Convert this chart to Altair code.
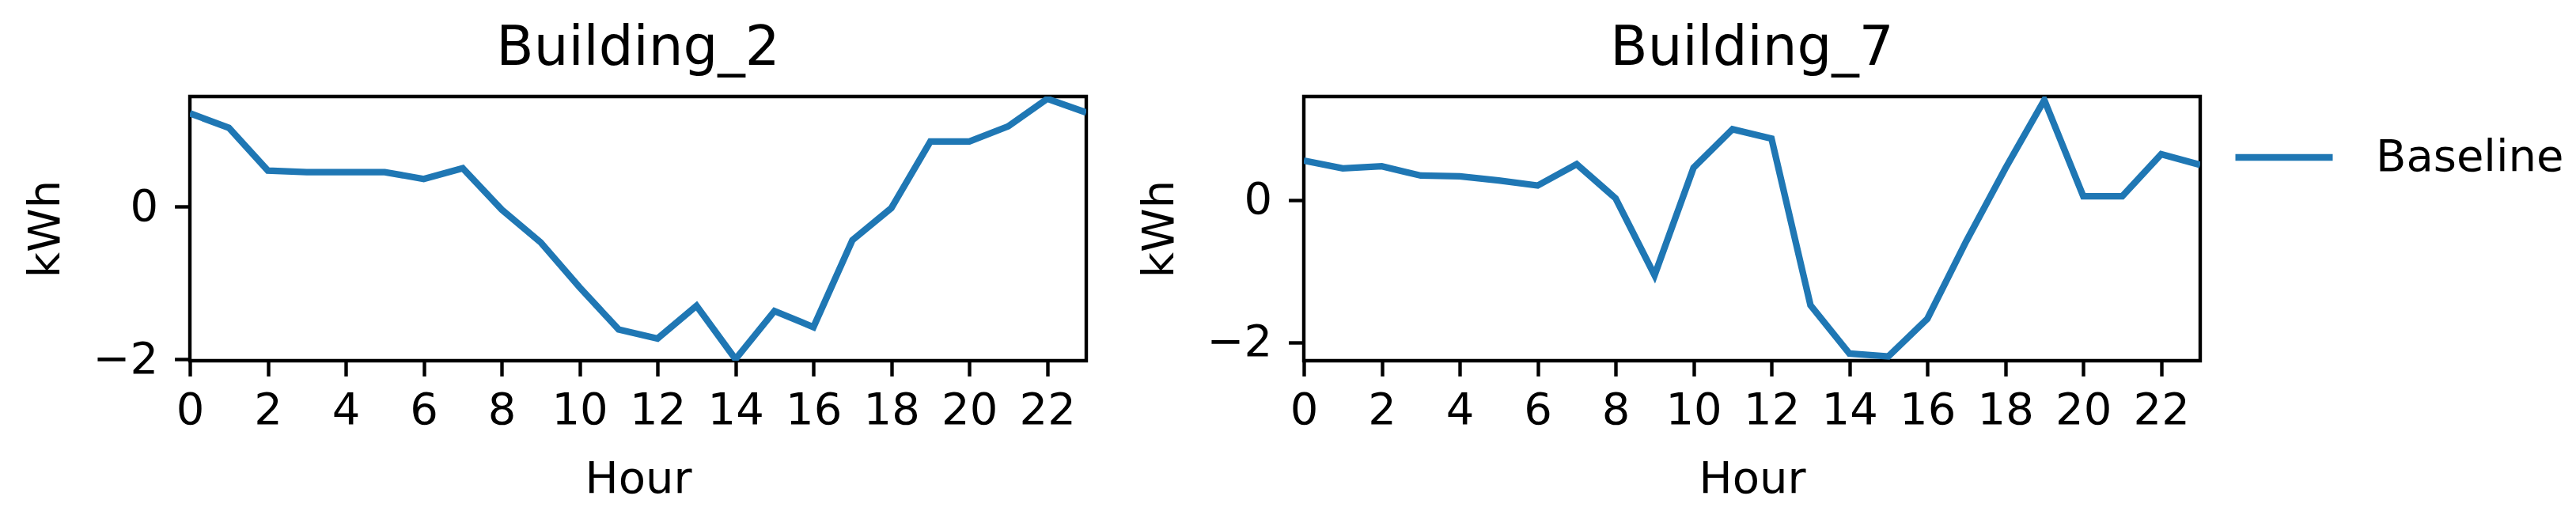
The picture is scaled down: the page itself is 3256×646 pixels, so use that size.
import altair as alt
import pandas as pd

hours = list(range(24))
building_2 = [1.22, 1.03, 0.47, 0.45, 0.45, 0.45, 0.36, 0.50, -0.04, -0.47, -1.06, -1.61,
              -1.73, -1.30, -2.00, -1.37, -1.58, -0.44, -0.02, 0.85, 0.85, 1.05, 1.41, 1.23]
building_7 = [0.55, 0.44, 0.47, 0.34, 0.33, 0.27, 0.20, 0.50, 0.02, -1.06, 0.45, 0.99,
              0.86, -1.48, -2.16, -2.20, -1.67, -0.58, 0.44, 1.40, 0.05, 0.05, 0.64, 0.49]
panel_names = ["Building_2", "Building_7"]
series_name = "Baseline"
x_ticks = list(range(0, 23, 2))
y_ticks = [-2, 0]
y_domains = [[-2.02, 1.44], [-2.26, 1.45]]

FONT = "DejaVu Sans"


def panel(name, values, ydomain):
    df = pd.DataFrame({"Hour": hours, "kWh": values, "Series": [series_name] * len(hours)})
    return (
        alt.Chart(df, title=alt.TitleParams(name, fontSize=69, font=FONT, fontWeight="normal",
                                            color="black", anchor="middle", offset=26))
        .mark_line(strokeWidth=8.3, clip=True)
        .encode(
            x=alt.X("Hour:Q", scale=alt.Scale(domain=[0, 23], nice=False, zero=False),
                    axis=alt.Axis(values=x_ticks, title="Hour", labelFlush=False,
                                  labelOverlap=False, labelPadding=16, titlePadding=32)),
            y=alt.Y("kWh:Q", scale=alt.Scale(domain=ydomain, nice=False, zero=False),
                    axis=alt.Axis(values=y_ticks, title="kWh", labelPadding=21, titlePadding=31)),
            color=alt.Color("Series:N", scale=alt.Scale(range=["#1f77b4"]),
                            legend=alt.Legend(title=None, orient="none", legendX=2581, legendY=11,
                                              symbolType="stroke", symbolStrokeWidth=8.3,
                                              symbolSize=15129, labelFontSize=56, labelFont=FONT,
                                              labelColor="black", labelOffset=50, labelLimit=400)),
        )
        .properties(width=1133, height=334)
    )


chart = (
    alt.hconcat(
        panel(panel_names[0], building_2, y_domains[0]),
        panel(panel_names[1], building_7, y_domains[1]),
        spacing=58,
    )
    .properties(padding={"left": 18, "top": 16, "right": 0, "bottom": 0})
    .configure_view(stroke="black", strokeWidth=4.4)
    .configure_axis(
        labelFont=FONT, titleFont=FONT, labelFontSize=56, titleFontSize=56,
        titleFontWeight="normal", labelColor="black", titleColor="black",
        tickColor="black", tickWidth=4.4, tickSize=19.4,
        domain=False, grid=False,
    )
)

chart.save("out.html", embed_options={"renderer": "svg", "actions": False})
